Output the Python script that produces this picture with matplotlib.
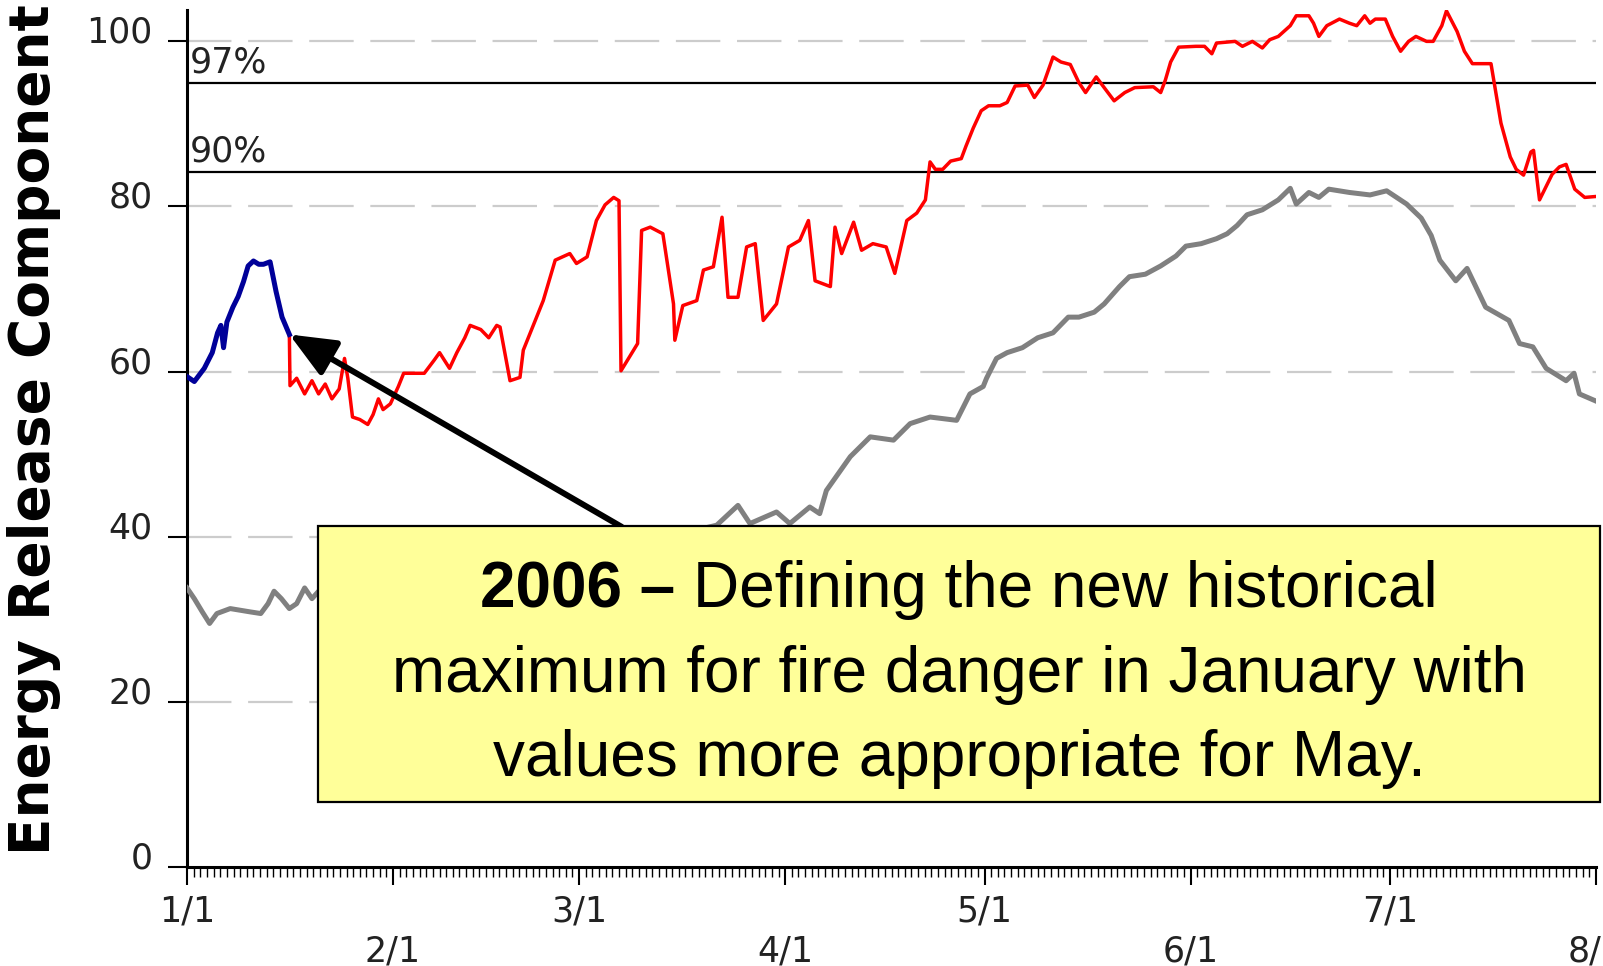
import matplotlib.pyplot as plt
import numpy as np
from matplotlib.patches import Rectangle
from matplotlib.transforms import ScaledTranslation

# 2006 ERC, January stretch (blue)
jan_day = [0.0, 1.1, 2.6, 3.8, 4.6, 5.1, 5.5, 6.0, 6.9, 7.7, 8.5, 9.2, 10.0,
           10.8, 11.5, 12.5, 13.4, 14.3, 15.4]
jan_erc = [59.4, 58.8, 60.4, 62.3, 64.7, 65.6, 62.9, 66.0, 67.8, 69.1, 70.9,
           72.8, 73.4, 73.0, 73.0, 73.3, 69.7, 66.6, 64.5]

# 2006 ERC, rest of the season (red)
day_2006 = [15.4, 15.5, 16.5, 17.7, 18.8, 19.8, 20.8, 21.8, 22.9, 23.7, 24.2,
            24.9, 26.0, 27.2, 28.0, 28.8, 29.5, 30.6, 31.8, 32.6, 35.7, 37.2,
            38.0, 39.5, 40.6, 41.8, 42.6, 44.2, 45.4, 46.6, 47.1, 48.6, 50.1,
            50.6, 53.6, 55.4, 57.6, 58.6, 60.2, 61.6, 62.9, 64.2, 65.0, 65.3,
            67.8, 68.4, 69.7, 71.6, 73.2, 73.4, 74.2, 74.6, 76.7, 77.7, 79.2,
            80.5, 81.4, 82.9, 84.2, 85.5, 86.7, 88.7, 90.5, 92.2, 93.5, 94.5,
            96.8, 97.5, 98.5, 100.3, 101.5, 103.2, 105.2, 106.5, 108.3, 109.8,
            111.1, 111.8, 112.6, 113.7, 114.9, 116.5, 117.2, 118.3, 119.5,
            120.6, 122.3, 123.4, 124.6, 126.5, 127.5, 128.8, 130.3, 131.5,
            132.9, 134.2, 135.2, 136.8, 138.0, 139.5, 141.1, 142.6, 145.4,
            146.5, 147.2, 148.0, 149.2, 151.8, 153.1, 154.2, 154.9, 157.7,
            158.8, 160.3, 161.8, 162.9, 164.2, 166.0, 166.9, 168.8, 169.5,
            170.3, 171.5, 173.4, 174.9, 176.0, 177.2, 178.0, 178.8, 180.3,
            181.4, 182.6, 183.8, 184.9, 186.5, 187.5, 188.8, 189.5, 191.1,
            192.2, 193.4, 195.2, 196.2, 196.8, 197.7, 199.1, 200.0, 201.1,
            202.2, 202.6, 203.5, 205.4, 206.5, 207.5, 208.8, 210.3, 211.8]
erc_2006 = [64.5, 58.3, 59.2, 57.3, 58.9, 57.3, 58.5, 56.7, 57.9, 61.6, 59.2,
            54.5, 54.2, 53.6, 54.8, 56.7, 55.4, 56.1, 58.2, 59.8, 59.8, 61.4,
            62.3, 60.4, 62.3, 64.1, 65.6, 65.1, 64.1, 65.6, 65.4, 58.9, 59.3,
            62.6, 68.6, 73.5, 74.3, 73.1, 73.9, 78.3, 80.2, 81.1, 80.7, 60.1,
            63.4, 77.1, 77.5, 76.7, 68.2, 63.8, 66.6, 68.0, 68.6, 72.3, 72.7,
            78.7, 69.0, 69.0, 75.1, 75.5, 66.2, 68.2, 75.1, 75.9, 78.3, 71.0,
            70.3, 77.5, 74.3, 78.1, 74.7, 75.5, 75.1, 71.9, 78.3, 79.2,
            80.8, 85.4, 84.5, 84.5, 85.5, 85.8, 87.3, 89.5, 91.6,
            92.2, 92.2, 92.6, 94.6, 94.7, 93.2, 94.7, 98.1, 97.5,
            97.2, 95.0, 93.8, 95.7, 94.4, 92.8, 93.8, 94.4, 94.5,
            93.8, 95.3, 97.5, 99.3, 99.4, 99.4, 98.5, 99.8, 100.0,
            99.4, 100.0, 99.2, 100.2, 100.6, 101.9, 103.1, 103.1, 102.2,
            100.6, 101.9, 102.7, 102.2, 101.9, 103.1, 102.2, 102.7, 102.7,
            100.6, 98.8, 100.0, 100.6, 100.0, 100.0, 101.9, 103.7, 101.2,
            98.8, 97.3, 97.3, 97.3, 94.4, 90.1, 86.0, 84.5, 83.8,
            86.6, 86.8, 80.8, 83.9, 84.8, 85.1, 82.1, 81.1, 81.2]

# historical average ERC (gray)
avg_day = [0.0, 1.1, 2.3, 3.4, 4.5, 6.5, 9.5, 11.1, 12.2, 13.1, 14.2, 15.4,
           16.5, 17.7, 18.8, 19.8, 25.0, 35.0, 45.0, 55.0, 65.0, 75.0, 79.7,
           82.9, 84.7, 88.7, 90.7, 93.7, 95.2, 96.2, 99.8, 102.8, 106.3,
           108.8, 111.8, 115.8, 117.8, 119.8, 120.3, 121.8, 123.4, 125.7,
           128.0, 130.3, 132.6, 134.2, 136.5, 138.0, 140.3, 141.8, 144.2,
           146.5, 148.8, 150.3, 152.6, 154.9, 156.5, 158.0, 159.5, 161.8,
           164.2, 166.0, 166.9, 168.8, 170.3, 171.8, 174.9, 178.0, 180.5,
           183.5, 185.7, 187.2, 188.5, 190.9, 192.6, 195.4, 198.9, 200.5,
           202.5, 204.5, 207.5, 208.7, 209.5, 211.8]
avg_erc = [33.8, 32.5, 30.9, 29.5, 30.7, 31.3, 30.9, 30.7, 31.9, 33.4, 32.5,
           31.3, 31.9, 33.8, 32.5, 33.4, 33.5, 34.5, 36.0, 37.5, 39.0, 40.5,
           41.4, 43.8, 41.6, 43.0, 41.6, 43.6, 42.8, 45.6, 49.7, 52.1, 51.7,
           53.7, 54.5, 54.1, 57.3, 58.2, 59.2, 61.6, 62.3, 62.9,
           64.1, 64.7, 66.6, 66.6, 67.2, 68.2, 70.3, 71.5, 71.8,
           72.8, 74.0, 75.2, 75.5, 76.1, 76.7, 77.7, 79.0, 79.6,
           80.8, 82.2, 80.3, 81.7, 81.1, 82.1, 81.7, 81.4, 81.9,
           80.3, 78.6, 76.5, 73.5, 71.0, 72.5, 67.8, 66.2, 63.4,
           63.0, 60.4, 58.9, 59.8, 57.3, 56.5]

pct_levels = [95.0, 84.2]
pct_labels = ['97%', '90%']

month_days = [0, 31, 59, 90, 120, 151, 181, 212]
month_labels = ['1/1', '2/1', '3/1', '4/1', '5/1', '6/1', '7/1', '8/1']
y_ticks = [0, 20, 40, 60, 80, 100]

W, H = 1603, 966
fig = plt.figure(figsize=(W / 100, H / 100), dpi=100)
ax = fig.add_axes([187 / W, 1 - 867 / H, (1596 - 187) / W, (867 - 10) / H])

# dashed grid
for v in y_ticks[1:]:
    ax.axhline(v, color='#cccccc', lw=1.6, linestyle=(0, (20, 7.5)), zorder=1)

# percentile lines
for v, lab in zip(pct_levels, pct_labels):
    ax.axhline(v, color='black', lw=1.6, zorder=2)
    ax.text(0.4, v + 0.35, lab, fontsize=25, color='#222222', va='bottom',
            ha='left', family='DejaVu Sans', zorder=2)

ax.plot(avg_day, avg_erc, color='#808080', lw=3.6, zorder=3)
ax.plot(day_2006, erc_2006, color='#ff0000', lw=2.5, zorder=4)
ax.plot(jan_day, jan_erc, color='#000099', lw=3.6, zorder=4)

ax.set_xlim(0, 212)
ax.set_ylim(0, 103.8)

for s in ['top', 'right']:
    ax.spines[s].set_visible(False)
for s in ['left', 'bottom']:
    ax.spines[s].set_linewidth(2.2)

ax.set_yticks(y_ticks)
ax.set_yticklabels([str(v) for v in y_ticks])
ax.tick_params(axis='y', length=14, width=1.5, pad=11, labelsize=25,
               labelcolor='#222222')
for lab in ax.get_yticklabels():
    lab.set_transform(lab.get_transform() + ScaledTranslation(0, 0.12, fig.dpi_scale_trans))

ax.set_xticks(month_days)
ax.set_xticklabels([m if i % 2 == 0 else '\n' + m for i, m in enumerate(month_labels)])
ax.set_xticks(np.arange(0, 213), minor=True)
ax.tick_params(axis='x', which='major', length=13, width=1.5, pad=7,
               labelsize=25, labelcolor='#222222')
ax.tick_params(axis='x', which='minor', length=7, width=1)

fig.text(34 / W, 1 - 430 / H, 'Energy Release Component', rotation=90,
         fontsize=39.5, fontweight='bold', family='DejaVu Sans',
         ha='center', va='center')

# arrow to the January peak
ax.annotate('', xy=(15.4, 64.5), xytext=(65.4, 41.2),
            arrowprops=dict(arrowstyle='-|>,head_length=0.7,head_width=0.3',
                            mutation_scale=40, lw=4.3, color='black',
                            shrinkA=0, shrinkB=0), zorder=6)

# callout box
box = Rectangle((318 / W, 1 - 802 / H), (1600 - 318) / W, (802 - 526) / H,
                transform=fig.transFigure, facecolor='#ffff99',
                edgecolor='black', lw=1.6, zorder=5)
fig.add_artist(box)

fs = 46
cx = 959
fig.canvas.draw()
r = fig.canvas.get_renderer()
t1 = fig.text(0, 1 - 607 / H, '2006 \u2013', fontsize=fs, fontweight='bold',
              family='Liberation Sans', va='baseline', ha='left', zorder=6)
t2 = fig.text(0, 1 - 607 / H, 'Defining the new historical', fontsize=fs,
              family='Liberation Sans', va='baseline', ha='left', zorder=6)
w1 = t1.get_window_extent(r).width
w2 = t2.get_window_extent(r).width
gap = 0.278 * fs * 100 / 72
x0 = cx - (w1 + gap + w2) / 2
t1.set_x(x0 / W)
t2.set_x((x0 + w1 + gap) / W)

fig.text(cx / W, 1 - 692 / H, 'maximum for fire danger in January with',
         fontsize=fs, family='Liberation Sans', va='baseline', ha='center', zorder=6)
fig.text(cx / W, 1 - 776 / H, 'values more appropriate for May.',
         fontsize=fs, family='Liberation Sans', va='baseline', ha='center', zorder=6)

fig.savefig('out.png', dpi=100)
